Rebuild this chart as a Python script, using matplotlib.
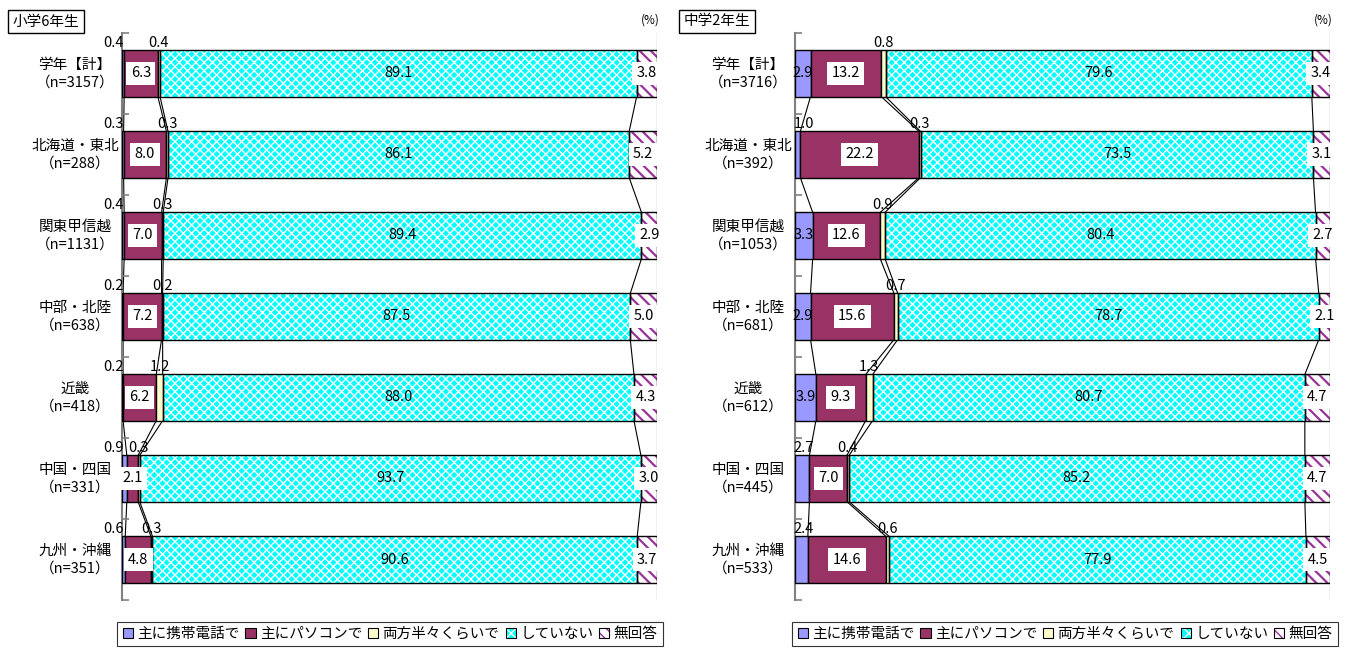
import matplotlib
matplotlib.use('Agg')
import matplotlib.pyplot as plt
from matplotlib.patches import Patch
from matplotlib.legend_handler import HandlerTuple
import numpy as np

plt.rcParams['font.family'] = ['Noto Sans CJK JP', 'DejaVu Sans']

SERIES = ['主に携帯電話で', '主にパソコンで', '両方半々くらいで', 'していない', '無回答']
COLORS = ['#9999FF', '#993366', '#FFFFCC', '#00FFFF', '#FFFFFF']

CATS = ['学年【計】', '北海道・東北', '関東甲信越', '中部・北陸', '近畿', '中国・四国', '九州・沖縄']

# 小学6年生
ES_N = [3157, 288, 1131, 638, 418, 331, 351]
ES_MOBILE = [0.4, 0.3, 0.4, 0.2, 0.2, 0.9, 0.6]
ES_PC = [6.3, 8.0, 7.0, 7.2, 6.2, 2.1, 4.8]
ES_BOTH = [0.4, 0.3, 0.3, 0.2, 1.2, 0.3, 0.3]
ES_NONE = [89.1, 86.1, 89.4, 87.5, 88.0, 93.7, 90.6]
ES_NA = [3.8, 5.2, 2.9, 5.0, 4.3, 3.0, 3.7]

# 中学2年生
JH_N = [3716, 392, 1053, 681, 612, 445, 533]
JH_MOBILE = [2.9, 1.0, 3.3, 2.9, 3.9, 2.7, 2.4]
JH_PC = [13.2, 22.2, 12.6, 15.6, 9.3, 7.0, 14.6]
JH_BOTH = [0.8, 0.3, 0.9, 0.7, 1.3, 0.4, 0.6]
JH_NONE = [79.6, 73.5, 80.4, 78.7, 80.7, 85.2, 77.9]
JH_NA = [3.4, 3.1, 2.7, 2.1, 4.7, 4.7, 4.5]

FS = 10.5
H = 0.57
CYAN_HATCH = 'xxxx'
NA_HATCH = '\\\\\\'
NA_COLOR = '#993399'
WHITE_BOX = dict(boxstyle='square,pad=0.3', facecolor='white', edgecolor='none')


def hatched_bar(ax, y, w, left, face, hatch, hcolor, hlw):
    with plt.rc_context({'hatch.color': hcolor, 'hatch.linewidth': hlw}):
        ax.barh(y, w, H, left=left, color=face, hatch=hatch, linewidth=0, zorder=2)
    ax.barh(y, w, H, left=left, fill=False, edgecolor='black', linewidth=1.0, zorder=3)


def draw_panel(ax, series, ns, small_side):
    data = np.array(series).T
    pct = data / data.sum(axis=1, keepdims=True) * 100
    cum = np.cumsum(pct, axis=1)
    y = np.arange(len(CATS))
    left = np.zeros(len(CATS))
    for k in range(5):
        w = pct[:, k]
        if k == 3:
            hatched_bar(ax, y, w, left, COLORS[k], CYAN_HATCH, 'white', 1.0)
        elif k == 4:
            hatched_bar(ax, y, w, left, 'white', NA_HATCH, NA_COLOR, 1.6)
        else:
            ax.barh(y, w, H, left=left, color=COLORS[k], edgecolor='black',
                    linewidth=1.0, zorder=3)
        for i in range(len(CATS)):
            v = data[i, k]
            txt = f'{v:.1f}'
            mid = left[i] + w[i] / 2
            top = i - H / 2
            if k == 0:
                if v >= 2.8:
                    ax.text(mid, i, txt, ha='center', va='center', fontsize=FS, zorder=5)
                elif small_side == 'right':
                    ax.text(0.3, top, txt, ha='right', va='bottom', fontsize=FS, zorder=5)
                else:
                    ax.text(-0.3, top, txt, ha='left', va='bottom', fontsize=FS, zorder=5)
            elif k == 2:
                ax.text(mid, top, txt, ha='center', va='bottom', fontsize=FS, zorder=5)
            elif k == 3:
                ax.text(mid, i, txt, ha='center', va='center', fontsize=FS, zorder=5)
            else:
                ax.text(mid, i, txt, ha='center', va='center', fontsize=FS,
                        bbox=WHITE_BOX, zorder=5)
        left = left + w

    # series lines
    for k in range(4):
        for i in range(len(CATS) - 1):
            ax.plot([cum[i, k], cum[i + 1, k]], [i + H / 2, i + 1 - H / 2],
                    color='black', lw=0.8, zorder=1)
    ax.plot([100, 100], [-0.5, len(CATS) - 0.5], color='black', lw=0.8, zorder=1)

    ax.set_xlim(0, 100)
    ax.set_ylim(len(CATS) - 0.5, -0.5)
    for s in ['top', 'right', 'bottom']:
        ax.spines[s].set_visible(False)
    ax.spines['left'].set_color('#808080')
    ax.spines['left'].set_linewidth(1.5)
    ax.set_xticks([])
    ax.set_yticks(np.arange(-0.5, len(CATS), 1.0))
    ax.set_yticklabels([])
    ax.tick_params(axis='y', direction='in', length=5, color='#808080', width=1.2)

    for i, (c, n) in enumerate(zip(CATS, ns)):
        ax.text(-0.088, i, f'{c}\n（n={n}）', transform=ax.get_yaxis_transform(),
                ha='center', va='center', fontsize=FS, linespacing=1.35)
    ax.text(0.987, 1.023, '(%)', transform=ax.transAxes, ha='center', va='center',
            fontsize=8.5)


def legend_handles():
    hs = []
    for k in range(5):
        edge = Patch(facecolor='none', edgecolor='black', linewidth=0.8)
        if k == 3:
            with plt.rc_context({'hatch.color': 'white', 'hatch.linewidth': 1.0}):
                hp = Patch(facecolor=COLORS[k], hatch='xxx')
            hs.append((hp, edge))
        elif k == 4:
            with plt.rc_context({'hatch.color': NA_COLOR, 'hatch.linewidth': 1.6}):
                hp = Patch(facecolor='white', hatch=NA_HATCH)
            hs.append((hp, edge))
        else:
            hs.append(Patch(facecolor=COLORS[k], edgecolor='black', linewidth=0.8))
    return hs


fig = plt.figure(figsize=(13.49, 6.5), dpi=100)
ax1 = fig.add_axes([122 / 1349, 50 / 650, 535 / 1349, 567 / 650])
ax2 = fig.add_axes([795 / 1349, 50 / 650, 535 / 1349, 567 / 650])

draw_panel(ax1, [ES_MOBILE, ES_PC, ES_BOTH, ES_NONE, ES_NA], ES_N, 'right')
draw_panel(ax2, [JH_MOBILE, JH_PC, JH_BOTH, JH_NONE, JH_NA], JH_N, 'left')

title_box = dict(boxstyle='square,pad=0.3', facecolor='white', edgecolor='black', linewidth=1)
fig.text(46 / 1349, 1 - 21.5 / 650, '小学6年生', ha='center', va='center', fontsize=FS, bbox=title_box)
fig.text(717 / 1349, 1 - 21.5 / 650, '中学2年生', ha='center', va='center', fontsize=FS, bbox=title_box)

for cx in [390, 1065]:
    leg = fig.legend(legend_handles(), SERIES, loc='center', ncol=5,
                     bbox_to_anchor=(cx / 1349, 1 - 634 / 650), fontsize=FS,
                     handlelength=0.7, handleheight=0.7, handletextpad=0.3,
                     columnspacing=0.4, borderpad=0.35, fancybox=False,
                     handler_map={tuple: HandlerTuple(ndivide=1)})
    leg.get_frame().set_edgecolor('black')
    leg.get_frame().set_linewidth(0.8)

fig.savefig('out.png', dpi=100)
